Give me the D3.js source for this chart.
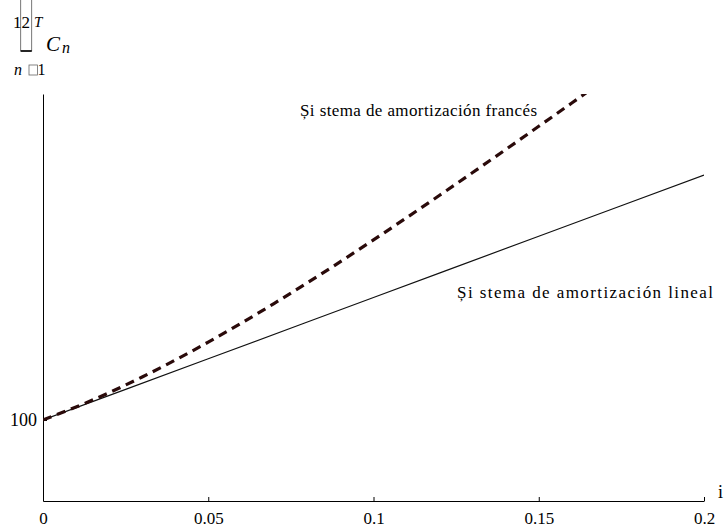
<!DOCTYPE html>
<html><head><meta charset="utf-8">
<script src="https://cdn.jsdelivr.net/npm/d3@7"></script>
<style>body{margin:0;background:#fff}svg{display:block}</style>
</head><body>
<svg id="c" width="726" height="528"></svg>
<script>
// Data
const rates = [0, 0.01, 0.02, 0.03, 0.04, 0.05, 0.06, 0.07, 0.08, 0.09, 0.10, 0.11, 0.12, 0.13, 0.14, 0.15, 0.16, 0.17];
const frances = [100, 119.6, 141.2, 164.9, 190.4, 217.6, 246.2, 276.2, 307.2, 339.2, 372.0, 405.5, 439.4, 473.8, 508.5, 543.6, 578.8, 614.2];
const linealRates = [0, 0.05, 0.10, 0.15, 0.20];
const lineal = [100, 192.5, 285, 377.5, 470];
const xTicks = [0, 0.05, 0.1, 0.15, 0.2];
const xTickLabels = ["0", "0.05", "0.1", "0.15", "0.2"];
const yTicks = [100];
const yTickLabels = ["100"];
const labelFrances = "Și stema de amortización francés";
const labelLineal = "Și stema de amortización lineal";

const svg = d3.select("#c");
svg.append("rect").attr("width",726).attr("height",528).attr("fill","#fff");
const serif = "Liberation Serif, Times New Roman, serif";

const x = d3.scaleLinear().domain([0, 0.2]).range([43, 704]);
const y = d3.scaleLinear().domain([-22.4, 592.4]).range([501, 94]);

svg.append("defs").append("clipPath").attr("id","clip")
  .append("rect").attr("x",43).attr("y",94).attr("width",661).attr("height",407);

// axes
const xAxis = d3.axisBottom(x).tickValues(xTicks)
  .tickFormat((d,i)=>xTickLabels[i]).tickSizeInner(-4).tickSizeOuter(0).tickPadding(11);
const gx = svg.append("g").attr("transform",`translate(0,${y.range()[0]})`).call(xAxis);
gx.selectAll("text").attr("font-family",serif).attr("font-size",17).attr("fill","#000");
gx.selectAll("line,path").attr("stroke","#000").attr("stroke-width",1);

const yAxis = d3.axisLeft(y).tickValues(yTicks)
  .tickFormat((d,i)=>yTickLabels[i]).tickSizeInner(-4).tickSizeOuter(0).tickPadding(6);
const gy = svg.append("g").attr("transform",`translate(${x.range()[0]},0)`).call(yAxis);
gy.selectAll("text").attr("font-family",serif).attr("font-size",18).attr("fill","#000");
gy.selectAll("line,path").attr("stroke","#000").attr("stroke-width",1);

// lines
const gl = svg.append("g").attr("clip-path","url(#clip)");
const line = d3.line().x(d=>x(d[0])).y(d=>y(d[1])).curve(d3.curveMonotoneX);
gl.append("path").datum(linealRates.map((r,i)=>[r, lineal[i]]))
  .attr("d", line).attr("fill","none").attr("stroke","#111").attr("stroke-width",1.2);
gl.append("path").datum(rates.map((r,i)=>[r, frances[i]]))
  .attr("d", line).attr("fill","none").attr("stroke","#2a0a0a").attr("stroke-width",3.2)
  .attr("stroke-dasharray","9,6");

// annotations
svg.append("text").attr("x",300).attr("y",116).attr("font-family",serif).attr("font-size",17)
  .attr("textLength",237).attr("lengthAdjust","spacing").text(labelFrances);
svg.append("text").attr("x",457).attr("y",298).attr("font-family",serif).attr("font-size",17)
  .attr("textLength",256).attr("lengthAdjust","spacing").text(labelLineal);

// x axis title
svg.append("text").attr("x",718).attr("y",498).attr("font-family",serif).attr("font-size",18).text("i");

// y axis title (12T sum C_n, n=1)
const yl = svg.append("g").attr("font-family",serif);
yl.append("rect").attr("x",20.7).attr("y",-1).attr("width",11).attr("height",52)
  .attr("fill","none").attr("stroke","#555").attr("stroke-width",0.8);
yl.append("line").attr("x1",20.7).attr("x2",31.7).attr("y1",51).attr("y2",51).attr("stroke","#000").attr("stroke-width",1.6);
yl.append("text").attr("x",13).attr("y",28).attr("font-size",17).text("1");
yl.append("text").attr("x",21.5).attr("y",28).attr("font-size",17).text("2");
yl.append("text").attr("x",34).attr("y",27).attr("font-size",15).attr("font-style","italic").text("T");
yl.append("text").attr("x",46).attr("y",51).attr("font-size",21).attr("font-style","italic").text("C");
yl.append("text").attr("x",62).attr("y",53).attr("font-size",16).attr("font-style","italic").text("n");
yl.append("text").attr("x",14).attr("y",75).attr("font-size",16).attr("font-style","italic").text("n");
yl.append("rect").attr("x",29).attr("y",65).attr("width",8.5).attr("height",10)
  .attr("fill","none").attr("stroke","#666").attr("stroke-width",0.8);
yl.append("text").attr("x",37.5).attr("y",75).attr("font-size",16).text("1");
</script>
</body></html>
